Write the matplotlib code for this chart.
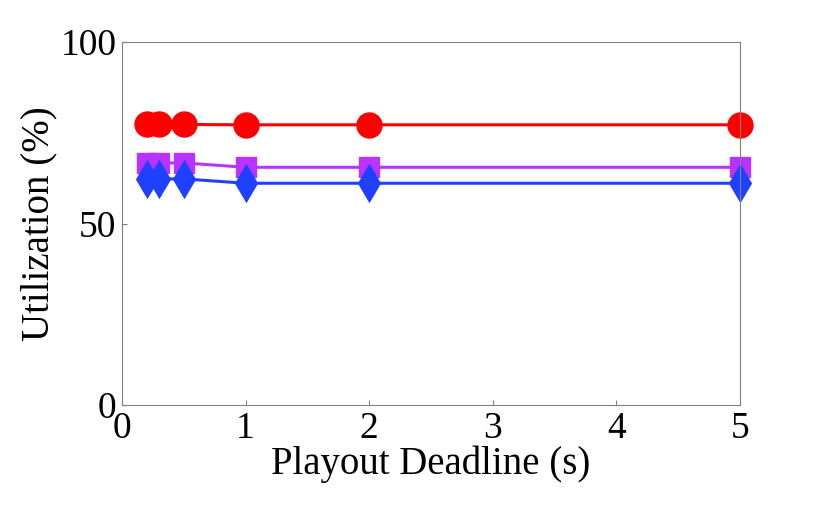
import matplotlib.pyplot as plt

plt.rcParams['font.family'] = ['Liberation Serif', 'DejaVu Serif']

# Playout deadline (s)
deadline = [0.2, 0.3, 0.5, 1, 2, 5]
# Utilization (%)
util_red = [77.3, 77.3, 77.3, 77.2, 77.2, 77.2]
util_purple = [66.7, 66.7, 66.7, 65.5, 65.5, 65.5]
util_blue = [62.3, 62.3, 62.3, 61.1, 61.1, 61.1]

fig = plt.figure(figsize=(8.3, 5.07), dpi=100)
ax = fig.add_axes([0.147, 0.2012, 0.7446, 0.7158])

ax.plot(deadline, util_red, color='#ff0000', lw=2.2, marker='o', ms=18,
        mec='#ff0000', clip_on=False)
ax.plot(deadline, util_purple, color='#b833ff', lw=2.2, marker='s', ms=14,
        mec='#b833ff', clip_on=False)
ax.plot(deadline, util_blue, color='#2040ff', lw=2.2, marker='d', ms=17,
        mew=2, mec='#2040ff', clip_on=False)

ax.set_xlim(0, 5)
ax.set_ylim(0, 100)
ax.set_xticks([0, 1, 2, 3, 4, 5])
ax.set_yticks([0, 50, 100])
ax.tick_params(direction='in', labelsize=27, color='#808080')
ax.tick_params(axis='x', pad=5)
ax.tick_params(axis='y', pad=4)
for s in ax.spines.values():
    s.set_color('#808080')
ax.set_xlabel('Playout Deadline (s)', fontsize=28, labelpad=-1)
ax.set_ylabel('Utilization (%)', fontsize=28, labelpad=2)

fig.savefig('out.png', dpi=100)
